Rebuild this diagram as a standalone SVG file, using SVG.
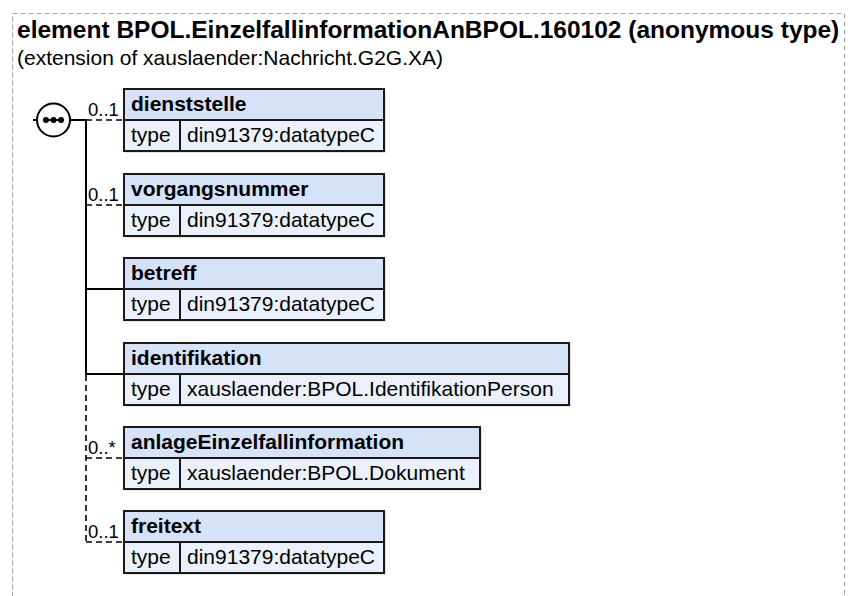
<svg xmlns="http://www.w3.org/2000/svg" width="848" height="596" viewBox="0 0 848 596">
<style>
text{font-family:"Liberation Sans",Arial,sans-serif;fill:#000}
.title{font-size:24.5px;font-weight:bold}
.sub{font-size:21px}
.name{font-size:21px;font-weight:bold}
.val{font-size:21px}
.card{font-size:18.5px}
.hdr{fill:#d5e2f7;stroke:#1a1a1a;stroke-width:2}
.row{fill:#eaf1fc;stroke:#1a1a1a;stroke-width:2}
.shadow{fill:#c8c8c8}
.solid{stroke:#000;stroke-width:2;fill:none}
.dash{stroke:#000;stroke-width:1.6;fill:none;stroke-dasharray:6,4}
</style>
<rect x="12.5" y="13.5" width="832" height="620" fill="none" stroke="#a0a0a0" stroke-width="1" stroke-dasharray="5,3"/>
<text class="title" x="17" y="38">element BPOL.EinzelfallinformationAnBPOL.160102 (anonymous type)</text>
<text class="sub" x="17" y="65">(extension of xauslaender:Nachricht.G2G.XA)</text>

<g id="connectors">
<line class="solid" x1="33" y1="120" x2="86" y2="120"/>
<line class="solid" x1="86" y1="119" x2="86" y2="375"/>
<line class="dash" x1="86" y1="375" x2="86" y2="543"/>
<line class="dash" x1="86" y1="120" x2="124" y2="120"/>
<line class="dash" x1="86" y1="205" x2="124" y2="205"/>
<line class="solid" x1="86" y1="289" x2="124" y2="289"/>
<line class="solid" x1="86" y1="374" x2="124" y2="374"/>
<line class="dash" x1="86" y1="458" x2="124" y2="458"/>
<line class="dash" x1="86" y1="542" x2="124" y2="542"/>
<text class="card" x="88" y="116">0..1</text>
<text class="card" x="88" y="201">0..1</text>
<text class="card" x="88" y="454">0..*</text>
<text class="card" x="88" y="538">0..1</text>
</g>

<g id="sequence">
<circle cx="53.5" cy="120" r="16.5" fill="#fff" stroke="#000" stroke-width="2"/>
<line x1="43" y1="120" x2="64" y2="120" stroke="#000" stroke-width="2"/>
<circle cx="46" cy="120" r="3" fill="#000"/>
<circle cx="53.5" cy="120" r="3" fill="#000"/>
<circle cx="61" cy="120" r="3" fill="#000"/>
</g>

<g id="dienststelle">
<rect class="shadow" x="125.5" y="90.5" width="260" height="62"/>
<rect class="hdr" x="124" y="89" width="260" height="31"/>
<rect class="row" x="124" y="120" width="260" height="31"/>
<line x1="180" y1="120" x2="180" y2="151" stroke="#1a1a1a" stroke-width="2"/>
<text class="name" x="131" y="111">dienststelle</text>
<text class="val" x="131" y="142">type</text>
<text class="val" x="187" y="142">din91379:datatypeC</text>
</g>

<g id="vorgangsnummer">
<rect class="shadow" x="125.5" y="175.5" width="260" height="62"/>
<rect class="hdr" x="124" y="174" width="260" height="31"/>
<rect class="row" x="124" y="205" width="260" height="31"/>
<line x1="180" y1="205" x2="180" y2="236" stroke="#1a1a1a" stroke-width="2"/>
<text class="name" x="131" y="196">vorgangsnummer</text>
<text class="val" x="131" y="227">type</text>
<text class="val" x="187" y="227">din91379:datatypeC</text>
</g>

<g id="betreff">
<rect class="shadow" x="125.5" y="259.5" width="260" height="62"/>
<rect class="hdr" x="124" y="258" width="260" height="31"/>
<rect class="row" x="124" y="289" width="260" height="31"/>
<line x1="180" y1="289" x2="180" y2="320" stroke="#1a1a1a" stroke-width="2"/>
<text class="name" x="131" y="280">betreff</text>
<text class="val" x="131" y="311">type</text>
<text class="val" x="187" y="311">din91379:datatypeC</text>
</g>

<g id="identifikation">
<rect class="shadow" x="125.5" y="344.5" width="445" height="62"/>
<rect class="hdr" x="124" y="343" width="445" height="31"/>
<rect class="row" x="124" y="374" width="445" height="31"/>
<line x1="180" y1="374" x2="180" y2="405" stroke="#1a1a1a" stroke-width="2"/>
<text class="name" x="131" y="365">identifikation</text>
<text class="val" x="131" y="396">type</text>
<text class="val" x="187" y="396">xauslaender:BPOL.IdentifikationPerson</text>
</g>

<g id="anlageEinzelfallinformation">
<rect class="shadow" x="125.5" y="428.5" width="356" height="62"/>
<rect class="hdr" x="124" y="427" width="356" height="31"/>
<rect class="row" x="124" y="458" width="356" height="31"/>
<line x1="180" y1="458" x2="180" y2="489" stroke="#1a1a1a" stroke-width="2"/>
<text class="name" x="131" y="449">anlageEinzelfallinformation</text>
<text class="val" x="131" y="480">type</text>
<text class="val" x="187" y="480">xauslaender:BPOL.Dokument</text>
</g>

<g id="freitext">
<rect class="shadow" x="125.5" y="512.5" width="260" height="62"/>
<rect class="hdr" x="124" y="511" width="260" height="31"/>
<rect class="row" x="124" y="542" width="260" height="31"/>
<line x1="180" y1="542" x2="180" y2="573" stroke="#1a1a1a" stroke-width="2"/>
<text class="name" x="131" y="533">freitext</text>
<text class="val" x="131" y="564">type</text>
<text class="val" x="187" y="564">din91379:datatypeC</text>
</g>
</svg>
